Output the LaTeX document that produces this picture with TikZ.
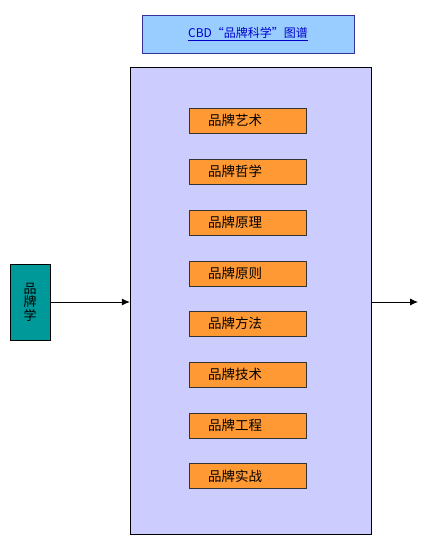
\documentclass[tikz,border=0pt]{standalone}
\usepackage{fontspec}
\setmainfont{Noto Sans CJK SC}
\usetikzlibrary{arrows.meta}
\definecolor{titlefill}{HTML}{99CCFF}
\definecolor{titledraw}{HTML}{333399}
\definecolor{titletext}{HTML}{0000CC}
\definecolor{mapfill}{HTML}{CCCCFF}
\definecolor{itemfill}{HTML}{FF9933}
\definecolor{rootfill}{HTML}{009999}
\tikzset{
  itembox/.style={draw=black!80, fill=itemfill, rectangle, inner xsep=19pt, inner ysep=0pt,
    text width=79pt, align=left, minimum height=25pt, font=\fontsize{13.5}{14}\selectfont},
  flow/.style={->, >={Latex[length=8pt,width=7pt]}, thick}
}
\begin{document}
\begin{tikzpicture}[x=1pt,y=-1pt]
\useasboundingbox (0,0) rectangle (432,559);

% Title
\node (title) at (248, 34) [draw=titledraw, fill=titlefill, rectangle, minimum width=212pt, minimum height=38pt,
  font=\fontsize{12}{13}\selectfont, text=titletext] {\underline{CBD“品牌科学”图谱}};

% Main box
\node (map) at (250.5, 300.5) [draw, fill=mapfill, rectangle, minimum width=241pt, minimum height=467pt] {};

% Root
\node (xue) at (30, 302) [draw, fill=rootfill, rectangle, minimum width=40pt, minimum height=76pt,
  align=center, font=\fontsize{13}{13.5}\selectfont] {品\\牌\\学};

% Items
\node (yishu) at (247.5, 120.5) [itembox] {品牌艺术};
\node (zhexue) at (247.5, 171.5) [itembox] {品牌哲学};
\node (yuanli) at (247.5, 222.5) [itembox] {品牌原理};
\node (yuanze) at (247.5, 273.5) [itembox] {品牌原则};
\node (fangfa) at (247.5, 323.5) [itembox] {品牌方法};
\node (jishu) at (247.5, 374.5) [itembox] {品牌技术};
\node (gongcheng) at (247.5, 425.5) [itembox] {品牌工程};
\node (shizhan) at (247.5, 476) [itembox] {品牌实战};

% Arrows
\coordinate (out) at (418, 302);
\draw[flow] (xue.east) -- (map.west |- xue.east);
\draw[flow] (map.east |- out) -- (out);

\end{tikzpicture}
\end{document}
